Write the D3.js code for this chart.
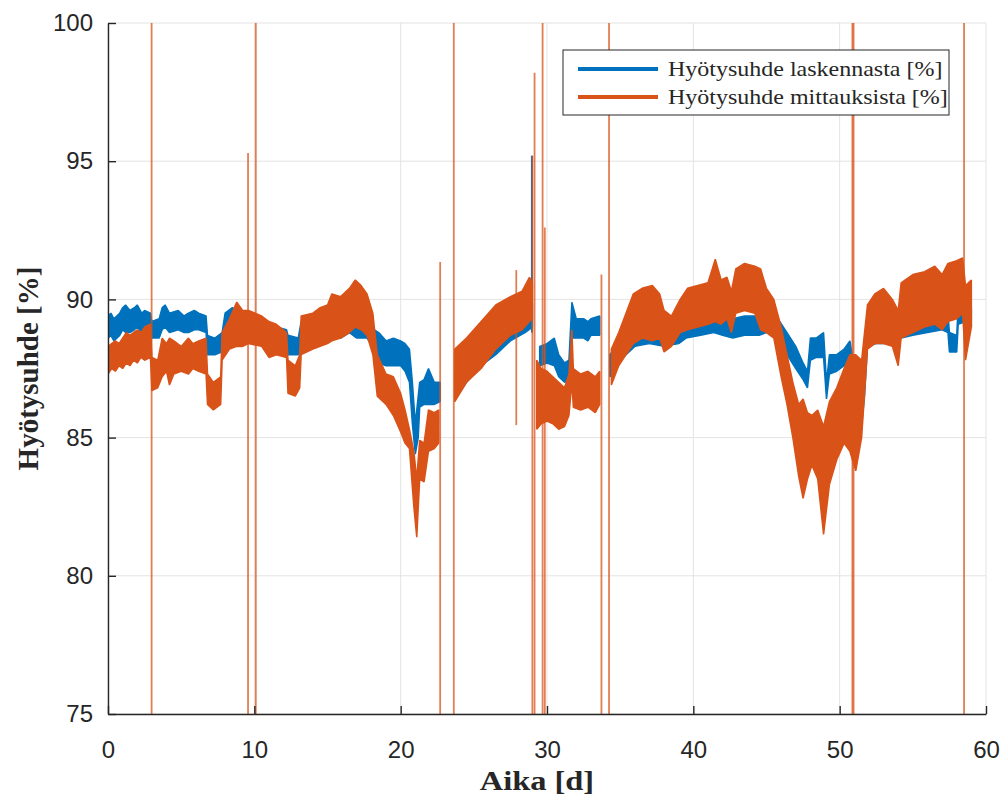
<!DOCTYPE html>
<html>
<head>
<meta charset="utf-8">
<script src="https://cdn.jsdelivr.net/npm/d3@7"></script>
<style>
  body { margin: 0; background: #fff; }
  text { fill: #262626; }
</style>
</head>
<body>
<svg id="chart" width="1005" height="796"></svg>
<script>
// DATA
const xTicks = [0, 10, 20, 30, 40, 50, 60];
const yTicks = [75, 80, 85, 90, 95, 100];
const seriesNames = ["Hyötysuhde laskennasta [%]", "Hyötysuhde mittauksista [%]"];

// [day, low edge, high edge] of the noisy band; null = no data
const blueBand = [
  [0, 88.6, 89.4], [0.2, 88.7, 89.5], [0.4, 88.5, 89.3], [0.6, 88.6, 89.4], [0.8, 88.7, 89.5], [1.0, 88.9, 89.7],
  [1.2, 88.8, 89.8], [1.5, 88.8, 89.6], [1.8, 88.9, 89.7], [2.0, 89.0, 89.8], [2.3, 88.8, 89.5], [2.5, 88.9, 89.6], [2.9, 88.8, 89.5],
  [3.0, 88.6, 89.2], [3.5, 88.6, 89.3], [3.7, 88.9, 89.7], [3.9, 89.0, 89.8], [4.2, 88.8, 89.5],
  [4.8, 88.9, 89.6], [5.2, 88.8, 89.4], [5.5, 88.8, 89.5], [5.9, 88.9, 89.6], [6.2, 88.9, 89.5], [6.7, 88.8, 89.4],
  [6.8, 88.0, 88.7], [7.3, 88.0, 88.6], [7.8, 88.1, 88.8], [8.0, 88.9, 89.5],
  [8.5, 88.9, 89.7], [9.0, 88.8, 89.5], [9.5, 88.7, 89.3], [10.5, 88.5, 89.2],
  [11.5, 88.4, 89.0], [12.2, 88.3, 88.9], [12.3, 88.0, 88.7], [13.0, 88.0, 88.6],
  [13.2, 88.6, 89.2], [14, 88.6, 89.2], [15, 88.7, 89.2], [15.9, 88.6, 89.3],
  [16.5, 88.8, 89.4], [17.0, 88.6, 89.3], [17.7, 88.6, 89.2], [18.2, 88.2, 88.9],
  [18.5, 87.7, 88.8], [19.0, 87.6, 88.5], [19.5, 87.6, 88.6], [20.0, 87.6, 88.5],
  [20.3, 87.4, 88.4], [20.6, 87.0, 88.2], [20.8, 85.5, 87.0], [21.0, 84.4, 85.5],
  [21.2, 85.0, 86.5], [21.3, 86.1, 87.0], [21.6, 86.2, 87.1], [21.9, 86.2, 87.5],
  [22.3, 86.2, 87.0], [22.7, 86.3, 87.0], [23.2, null, null],
  [23.7, 86.4, 87.3], [24.5, 87.0, 87.9], [25.5, 87.6, 88.5], [26.5, 88.0, 88.9],
  [27.5, 88.5, 89.3], [28.5, 88.8, 89.6], [29.0, 89.0, 89.8], [29.3, null, null],
  [29.5, 87.6, 88.3], [30.0, 87.7, 88.4], [30.5, 87.6, 88.6], [30.8, 87.2, 88.0],
  [31.2, 87.0, 87.7], [31.5, 87.1, 87.8], [31.7, 88.6, 89.9], [32.0, 88.6, 89.3],
  [32.5, 88.6, 89.3], [32.8, 88.5, 89.2], [33.0, 88.7, 89.3], [33.6, 88.7, 89.4], [34.0, null, null],
  [34.3, 87.2, 88.0], [35, 87.8, 88.5], [36, 88.3, 89.0], [37, 88.4, 89.0],
  [38, 88.3, 89.0], [39, 88.4, 89.0], [39.5, 88.6, 89.2], [40.5, 88.7, 89.3],
  [41.4, 88.8, 89.5], [42.0, 88.7, 89.4], [42.7, 88.6, 89.3], [43.5, 88.7, 89.4],
  [44.5, 88.7, 89.4], [45.0, 88.8, 89.5], [45.5, 88.8, 89.6], [45.9, 88.6, 89.2],
  [46.4, 88.0, 88.8], [47.0, 87.5, 88.3], [47.5, 87.1, 87.7], [47.8, 86.8, 87.4],
  [48.0, 87.8, 88.6], [48.4, 87.9, 88.6], [48.9, 87.9, 88.8], [49.1, 86.4, 87.0],
  [49.3, 87.3, 88.0], [49.8, 87.4, 88.0], [50.3, 87.6, 88.2], [50.7, 87.8, 88.5],
  [51.0, 85.5, 87.5], [51.4, 84.9, 86.5], [51.7, 86.5, 88.0], [51.9, 88.3, 89.0],
  [52.5, 88.4, 89.1], [53, 88.4, 89.0], [53.5, 88.5, 89.2], [54.2, 88.6, 89.3],
  [55, 88.7, 89.4], [56, 88.8, 89.5], [57, 88.9, 89.6], [57.4, 88.8, 89.5],
  [57.5, 88.1, 88.8], [58.0, 88.1, 88.7], [58.1, 89.1, 89.8], [58.6, 89.2, 89.9],
  [59.0, 89.0, 89.7]
];

const orangeBand = [
  [0, 87.3, 88.3], [0.25, 87.5, 88.4], [0.5, 87.4, 88.5], [0.75, 87.6, 88.4], [1.0, 87.5, 88.6], [1.25, 87.7, 88.8],
  [1.5, 87.6, 88.7], [1.75, 87.8, 88.8], [2.0, 87.7, 88.9], [2.25, 87.9, 88.8], [2.5, 87.8, 89.0], [2.9, 87.9, 89.1], [3.0, 86.7, 87.9],
  [3.4, 86.8, 87.8], [3.7, 87.2, 88.6], [4.0, 87.4, 88.4], [4.2, 86.9, 88.6], [4.5, 87.3, 88.5],
  [5.0, 87.4, 88.3], [5.5, 87.3, 88.6], [5.8, 87.5, 88.4], [6.2, 87.4, 88.5], [6.7, 87.3, 88.6], [6.8, 86.2, 87.3],
  [7.2, 86.0, 87.0], [7.7, 86.2, 87.2], [7.8, 87.8, 88.8], [8.3, 88.2, 89.3],
  [8.8, 88.3, 89.9], [9.2, 88.3, 89.6], [9.6, 88.4, 89.6], [10.5, 88.3, 89.4],
  [11.0, 87.9, 89.2], [11.5, 88.0, 89.1], [12.2, 87.9, 88.8], [12.3, 86.6, 87.8],
  [12.8, 86.5, 87.6], [13.1, 86.8, 88.0], [13.2, 88.0, 89.4], [14.0, 88.2, 89.5],
  [14.5, 88.3, 89.7], [15.0, 88.4, 89.8], [15.3, 88.5, 90.2], [15.9, 88.6, 90.1], [16.5, 88.8, 90.4],
  [16.9, 89.0, 90.7], [17.3, 88.9, 90.5], [17.7, 88.7, 90.2], [18.1, 88.0, 89.5],
  [18.4, 86.5, 88.0], [19.0, 86.2, 87.3], [19.5, 85.8, 87.2], [20.0, 85.2, 86.6],
  [20.3, 84.8, 86.0], [20.6, 84.6, 85.3], [20.9, 82.5, 84.5], [21.1, 81.4, 83.5],
  [21.3, 83.5, 84.9], [21.6, 83.4, 84.8], [21.9, 84.5, 86.0], [22.3, 84.6, 85.9],
  [22.6, 84.8, 86.0], [23.2, null, null],
  [23.7, 86.3, 88.2], [24.5, 87.0, 88.6], [25.5, 87.5, 89.2], [26.5, 88.2, 89.8],
  [27.5, 88.7, 90.1], [28.3, 88.9, 90.3], [28.8, 89.2, 90.8], [29.0, 89.3, 90.6],
  [29.1, null, null],
  [29.3, 85.3, 87.8], [29.6, 85.5, 87.5], [30.0, 85.6, 87.4], [30.4, 85.5, 87.2],
  [30.8, 85.3, 87.0], [31.2, 85.4, 86.8], [31.5, 85.8, 87.3], [31.7, 87.0, 88.9],
  [31.8, 86.1, 87.5], [32.3, 86.0, 87.3], [32.8, 86.1, 87.4], [33.3, 85.9, 87.2],
  [33.6, 86.2, 87.4], [34.0, null, null],
  [34.4, 86.9, 88.2], [34.9, 87.6, 88.8], [35.4, 88.0, 89.5], [35.9, 88.4, 90.2],
  [36.5, 88.6, 90.4], [37.2, 88.5, 90.5], [37.7, 88.6, 90.2], [38.0, 88.1, 89.6],
  [38.5, 88.3, 89.4], [39.1, 88.8, 90.0], [39.6, 88.9, 90.4], [40.3, 89.0, 90.5],
  [41.0, 89.1, 90.6], [41.5, 89.2, 91.45], [41.9, 89.1, 90.7], [42.3, 89.3, 90.8],
  [42.6, 88.8, 90.3], [42.9, 89.5, 91.1], [43.5, 89.6, 91.3], [44.2, 89.5, 91.2],
  [44.6, 88.9, 91.1], [45.0, 88.8, 90.4], [45.5, 88.6, 90.0], [46.0, 87.2, 89.0],
  [46.4, 86.2, 88.0], [46.8, 85.0, 87.0], [47.2, 83.6, 86.2], [47.5, 82.8, 86.4],
  [47.8, 83.5, 85.9], [48.1, 84.0, 85.8], [48.5, 83.5, 86.0], [48.9, 81.5, 85.4],
  [49.3, 83.3, 86.3], [49.8, 84.2, 86.8], [50.3, 84.8, 87.5], [50.7, 84.5, 88.0],
  [51.1, 83.8, 88.0], [51.5, 85.0, 87.8], [51.9, 88.2, 89.8], [52.4, 88.4, 90.2],
  [53.0, 88.4, 90.4], [53.6, 88.3, 90.0], [54.0, 87.6, 89.6], [54.2, 88.6, 90.6],
  [55.0, 88.8, 90.9], [55.8, 89.0, 91.0], [56.5, 89.1, 91.2], [57.0, 88.9, 90.9],
  [57.4, 89.2, 91.3], [58.0, 89.3, 91.4], [58.4, 89.5, 91.5], [58.6, 87.8, 90.5],
  [59.0, 89.0, 90.7]
];

// isolated vertical outliers: [day, low, high]
const orangeSpikes = [
  [2.98, 75, 100], [9.57, 75, 95.3], [10.1, 75, 100], [22.7, 75, 91.35],
  [23.63, 75, 100], [27.9, 85.45, 91.06], [29.0, 75, 95.2], [29.15, 75, 98.2],
  [29.7, 75, 100], [29.85, 75, 92.6], [33.72, 75, 90.9], [34.24, 75, 100],
  [50.87, 75, 100], [50.95, 75, 100], [58.5, 75, 100]
];
const blueSpikes = [[28.97, 88.8, 95.2]];

// CANVAS SETUP
const svg = d3.select("#chart");
const margin = { top: 23, right: 19, bottom: 82, left: 108 },
  width = 1005 - margin.left - margin.right,
  height = 796 - margin.top - margin.bottom;

const blue = "#0072BD", orange = "#D95319";
const axisColor = "#262626";
const stretch = "scale(1.2,1)";

const x = d3.scaleLinear().domain([0, 60]).range([0, width]);
const y = d3.scaleLinear().domain([75, 100]).range([height, 0]);

const g = svg.append("g").attr("transform", `translate(${margin.left},${margin.top})`);

svg.append("defs").append("clipPath").attr("id", "plotClip")
  .append("rect").attr("width", width).attr("height", height);

// grid
g.append("g").selectAll("line").data(xTicks).join("line")
  .attr("x1", d => x(d)).attr("x2", d => x(d))
  .attr("y1", 0).attr("y2", height)
  .attr("stroke", "#e3e3e3").attr("stroke-width", 1);
g.append("g").selectAll("line").data(yTicks).join("line")
  .attr("y1", d => y(d)).attr("y2", d => y(d))
  .attr("x1", 0).attr("x2", width)
  .attr("stroke", "#e3e3e3").attr("stroke-width", 1);

const plot = g.append("g").attr("clip-path", "url(#plotClip)");

const band = d3.area()
  .defined(d => d[1] != null)
  .x(d => x(d[0]))
  .y0(d => y(d[1]))
  .y1(d => y(d[2]));

plot.append("path").datum(blueBand)
  .attr("d", band).attr("fill", blue)
  .attr("stroke", blue).attr("stroke-width", 1.5).attr("stroke-linejoin", "bevel");

plot.selectAll(".bspike").data(blueSpikes).join("line")
  .attr("class", "bspike")
  .attr("x1", d => x(d[0])).attr("x2", d => x(d[0]))
  .attr("y1", d => y(d[1])).attr("y2", d => y(d[2]))
  .attr("stroke", blue).attr("stroke-width", 2);

plot.append("path").datum(orangeBand)
  .attr("d", band).attr("fill", orange)
  .attr("stroke", orange).attr("stroke-width", 1.5).attr("stroke-linejoin", "bevel");

plot.selectAll(".ospike").data(orangeSpikes).join("line")
  .attr("class", "ospike")
  .attr("x1", d => x(d[0])).attr("x2", d => x(d[0]))
  .attr("y1", d => y(d[1])).attr("y2", d => y(d[2]))
  .attr("stroke", orange).attr("stroke-width", 1.8).attr("opacity", 0.75);

// axes (ticks point inward)
const font = "'Liberation Sans', Arial, sans-serif";

const gy = g.append("g")
  .call(d3.axisLeft(y).tickValues(yTicks).tickSizeInner(-8).tickSizeOuter(0).tickPadding(15));
const gx = g.append("g").attr("transform", `translate(0,${height})`)
  .call(d3.axisBottom(x).tickValues(xTicks).tickSizeInner(-8).tickSizeOuter(0).tickPadding(27));

[gx, gy].forEach(a => {
  a.select(".domain").attr("stroke", axisColor).attr("stroke-width", 1.4);
  a.selectAll(".tick line").attr("stroke", axisColor).attr("stroke-width", 1.4);
  a.selectAll(".tick text").attr("fill", axisColor)
    .style("font-family", font).style("font-size", "24px");
});

// axis titles
svg.append("g")
  .attr("transform", `translate(${margin.left + width / 2 - 10},790) ${stretch}`)
  .append("text").attr("text-anchor", "middle")
  .style("font-family", "'Liberation Serif', 'Times New Roman', serif")
  .style("font-weight", "bold").style("font-size", "27px")
  .text("Aika [d]");

svg.append("g")
  .attr("transform", `translate(38,${margin.top + height / 2}) rotate(-90)`)
  .append("text").attr("text-anchor", "middle")
  .style("font-family", "'Liberation Serif', 'Times New Roman', serif")
  .style("font-weight", "bold").style("font-size", "29px")
  .text("Hyötysuhde [%]");

// legend
const lg = svg.append("g").attr("transform", "translate(563,50)");
lg.append("rect").attr("width", 386).attr("height", 65)
  .attr("fill", "#fff").attr("stroke", axisColor).attr("stroke-width", 1);
const items = lg.selectAll(".item").data(seriesNames).join("g")
  .attr("class", "item")
  .attr("transform", (d, i) => `translate(0,${19 + i * 28})`);
items.append("line").attr("x1", 15).attr("x2", 95)
  .attr("stroke", (d, i) => (i === 0 ? blue : orange)).attr("stroke-width", 4);
items.append("g").attr("transform", `translate(105,7) ${stretch}`)
  .append("text")
  .style("font-family", "'Liberation Serif', 'Times New Roman', serif")
  .style("font-size", "20px")
  .text(d => d);
</script>
</body>
</html>
